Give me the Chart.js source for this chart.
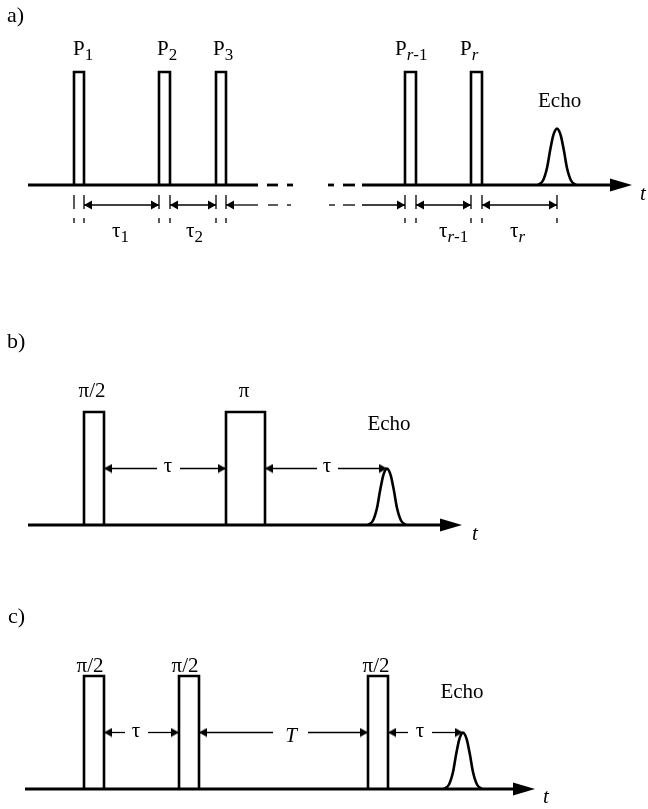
<!DOCTYPE html>
<html>
<head>
<meta charset="utf-8">
<script src="https://cdn.jsdelivr.net/npm/chart.js@4.4.0/dist/chart.umd.min.js"></script>
<style>
html, body { margin: 0; padding: 0; background: #fff; }
#wrap { position: relative; width: 648px; height: 809px; }
#wrap canvas { position: absolute; left: 0; }
</style>
</head>
<body>
<div id="wrap">
  <canvas id="panelA" width="648" height="270" style="top:0px"></canvas>
  <canvas id="panelB" width="648" height="290" style="top:270px"></canvas>
  <canvas id="panelC" width="648" height="249" style="top:560px"></canvas>
</div>
<script>
// time is in arbitrary units along the axis, amplitude 1 = full pulse height

// a) r-pulse sequence
const pulseStartA = [74, 159, 216, 405, 471];
const pulseEndA   = [84, 170, 226, 416, 482];
const echoTimeA = 557;
const axisSolidA = [[28, 258], [362, 632]];
const axisDashA  = [[267, 278], [287, 293], [328, 334], [343, 355]];
const spanFromA  = [84, 170, 226, 362, 416, 482];
const spanToA    = [159, 216, 258, 405, 471, 557];
const spanHeadsA = ['both', 'both', 'start', 'end', 'both', 'both'];
const rowDashA   = [[268, 278], [287, 291], [329, 335], [343, 355]];
const tickTimesA = [74, 84, 159, 170, 216, 226, 405, 416, 471, 482, 557];

// b) two-pulse (Hahn) echo
const pulseStartB = [84, 226];
const pulseEndB   = [104, 265];
const echoTimeB = 387;
const axisSolidB = [[28, 462]];
const spanFromB = [104, 265];
const spanToB   = [226, 387];
const gapFromB  = [157, 317];
const gapToB    = [180, 338];

// c) stimulated echo
const pulseStartC = [84, 179, 368];
const pulseEndC   = [104, 199, 388];
const echoTimeC = 463;
const axisSolidC = [[25, 535]];
const spanFromC = [104, 199, 388];
const spanToC   = [179, 368, 463];
const gapFromC  = [125, 273, 408];
const gapToC    = [148, 308, 432];

// echo shape (offset from echo centre, amplitude)
const echoOffset = [-19, -14, -10, -7, -4, -2, 0, 2, 4, 7, 10, 14, 19];
const echoAmp    = [0, 0.04, 0.15, 0.30, 0.43, 0.48, 0.5, 0.48, 0.43, 0.30, 0.15, 0.04, 0];

// arrow rows
const rowAmpA = -0.177;
const rowAmpB = 0.5;
const rowAmpC = 0.5;
const tickTopA = -0.088;
const tickBottomA = -0.336;

// text: [time, amplitude, align, parts]  part kinds: '' normal, 'i' italic, 's' subscript, 'si' italic subscript
const textA = [
  [7, 1.442, 'left', [['a)', 'big']]],
  [73, 1.150, 'left', [['P', ''], ['1', 's']]],
  [157, 1.150, 'left', [['P', ''], ['2', 's']]],
  [213, 1.150, 'left', [['P', ''], ['3', 's']]],
  [395, 1.150, 'left', [['P', ''], ['r', 'si'], ['-1', 's']]],
  [460, 1.150, 'left', [['P', ''], ['r', 'si']]],
  [538, 0.690, 'left', [['Echo', '']]],
  [112, -0.460, 'left', [['τ', ''], ['1', 's']]],
  [186, -0.460, 'left', [['τ', ''], ['2', 's']]],
  [439, -0.460, 'left', [['τ', ''], ['r', 'si'], ['-1', 's']]],
  [510, -0.460, 'left', [['τ', ''], ['r', 'si']]],
  [640, -0.133, 'left', [['t', 'i']]]
];
const textB = [
  [7, 1.566, 'left', [['b)', 'big']]],
  [92, 1.133, 'center', [['π/2', '']]],
  [244, 1.133, 'center', [['π', '']]],
  [168, 0.469, 'center', [['τ', '']]],
  [327, 0.469, 'center', [['τ', '']]],
  [389, 0.841, 'center', [['Echo', '']]],
  [472, -0.133, 'left', [['t', 'i']]]
];
const textC = [
  [8, 1.469, 'left', [['c)', 'big']]],
  [90, 1.035, 'center', [['π/2', '']]],
  [185, 1.035, 'center', [['π/2', '']]],
  [376, 1.035, 'center', [['π/2', '']]],
  [136, 0.460, 'center', [['τ', '']]],
  [291, 0.416, 'center', [['T', 'i']]],
  [420, 0.460, 'center', [['τ', '']]],
  [462, 0.805, 'center', [['Echo', '']]],
  [543, -0.124, 'left', [['t', 'i']]]
];

const INK = '#000';
const PX_PER_UNIT = 113;
const SERIF = '"Liberation Serif", "DejaVu Serif", serif';

// arrowhead images: the tip sits at the centre so the point lands on the tip
function makeHead(len, h) {
  const c = document.createElement('canvas');
  c.width = len * 2;
  c.height = h + 1;
  const g = c.getContext('2d');
  g.fillStyle = INK;
  g.beginPath();
  g.moveTo(0, 0.5);
  g.lineTo(len, (h + 1) / 2);
  g.lineTo(0, h + 0.5);
  g.closePath();
  g.fill();
  return c;
}
const smallHead = makeHead(8, 9);
const bigHead = makeHead(22, 13);

function line(points, extra) {
  return Object.assign({
    data: points,
    showLine: true,
    borderColor: INK,
    borderWidth: 1.3,
    pointRadius: 0,
    fill: false,
    clip: false,
    borderCapStyle: 'butt',
    borderJoinStyle: 'miter'
  }, extra || {});
}

function pulse(s, e) {
  return line([{x: s, y: 0}, {x: s, y: 1}, {x: e, y: 1}, {x: e, y: 0}], {borderWidth: 2.6});
}

function echo(t0) {
  return line(echoOffset.map((d, i) => ({x: t0 + d, y: echoAmp[i]})),
    {borderWidth: 2.6, cubicInterpolationMode: 'monotone'});
}

function axis(solid, dashes) {
  const out = [];
  solid.forEach((s, i) => {
    const last = i === solid.length - 1;
    out.push(line([{x: s[0], y: 0}, {x: last ? s[1] - 12 : s[1], y: 0}], {borderWidth: 2.8}));
    if (last) {
      out.push({data: [{x: s[1], y: 0}], showLine: false, clip: false,
        pointRadius: 1, pointStyle: bigHead, pointRotation: 0});
    }
  });
  (dashes || []).forEach(d => out.push(line([{x: d[0], y: 0}, {x: d[1], y: 0}], {borderWidth: 2.8})));
  return out;
}

function span(from, to, amp, heads) {
  const r = [], rot = [];
  const startHead = heads === 'both' || heads === 'start';
  const endHead = heads === 'both' || heads === 'end';
  r.push(startHead ? 1 : 0); rot.push(180);
  r.push(endHead ? 1 : 0); rot.push(0);
  return line([{x: from, y: amp}, {x: to, y: amp}],
    {pointRadius: r, pointStyle: smallHead, pointRotation: rot});
}

function gappedSpans(from, to, gFrom, gTo, amp) {
  const out = [];
  from.forEach((f, i) => {
    out.push(span(f, gFrom[i], amp, 'start'));
    out.push(span(gTo[i], to[i], amp, 'end'));
  });
  return out;
}

function fontFor(kind) {
  if (kind === 'big') return '22px ' + SERIF;
  const italic = kind.indexOf('i') >= 0 ? 'italic ' : '';
  const size = kind.indexOf('s') >= 0 ? 17 : 21;
  return italic + size + 'px ' + SERIF;
}

function textPlugin(items) {
  return {
    id: 'diagramText',
    afterDatasetsDraw(chart) {
      const ctx = chart.ctx;
      const xs = chart.scales.x, ys = chart.scales.y;
      ctx.save();
      ctx.fillStyle = INK;
      ctx.textBaseline = 'alphabetic';
      items.forEach(item => {
        const runs = item[3].map(p => ({
          text: p[0],
          font: fontFor(p[1]),
          dy: p[1].indexOf('s') >= 0 ? 5 : 0
        }));
        let w = 0;
        runs.forEach(r => { ctx.font = r.font; r.w = ctx.measureText(r.text).width; w += r.w; });
        let x = xs.getPixelForValue(item[0]);
        if (item[2] === 'center') x -= w / 2;
        const y = ys.getPixelForValue(item[1]);
        runs.forEach(r => { ctx.font = r.font; ctx.fillText(r.text, x, y + r.dy); x += r.w; });
      });
      ctx.restore();
    }
  };
}

function makePanel(id, baselinePx, datasets, texts) {
  const canvas = document.getElementById(id);
  const h = canvas.height;
  return new Chart(canvas, {
    type: 'scatter',
    data: { datasets: datasets },
    options: {
      responsive: false,
      animation: false,
      events: [],
      layout: { padding: 0, autoPadding: false },
      plugins: { legend: { display: false }, tooltip: { enabled: false } },
      scales: {
        x: { type: 'linear', display: false, bounds: 'data', min: 0, max: 648 },
        y: { type: 'linear', display: false, bounds: 'data',
             min: -(h - baselinePx) / PX_PER_UNIT, max: baselinePx / PX_PER_UNIT }
      }
    },
    plugins: [textPlugin(texts)]
  });
}

// panel a
const dsA = [];
pulseStartA.forEach((s, i) => dsA.push(pulse(s, pulseEndA[i])));
dsA.push(echo(echoTimeA));
axis(axisSolidA, axisDashA).forEach(d => dsA.push(d));
spanFromA.forEach((f, i) => dsA.push(span(f, spanToA[i], rowAmpA, spanHeadsA[i])));
rowDashA.forEach(d => dsA.push(line([{x: d[0], y: rowAmpA}, {x: d[1], y: rowAmpA}])));
tickTimesA.forEach(t => dsA.push(line([{x: t, y: tickTopA}, {x: t, y: tickBottomA}],
  {borderDash: [14, 9, 6]})));
makePanel('panelA', 185, dsA, textA);

// panel b
const dsB = [];
pulseStartB.forEach((s, i) => dsB.push(pulse(s, pulseEndB[i])));
dsB.push(echo(echoTimeB));
axis(axisSolidB).forEach(d => dsB.push(d));
gappedSpans(spanFromB, spanToB, gapFromB, gapToB, rowAmpB).forEach(d => dsB.push(d));
makePanel('panelB', 255, dsB, textB);

// panel c
const dsC = [];
pulseStartC.forEach((s, i) => dsC.push(pulse(s, pulseEndC[i])));
dsC.push(echo(echoTimeC));
axis(axisSolidC).forEach(d => dsC.push(d));
gappedSpans(spanFromC, spanToC, gapFromC, gapToC, rowAmpC).forEach(d => dsC.push(d));
makePanel('panelC', 229, dsC, textC);
</script>
</body>
</html>
